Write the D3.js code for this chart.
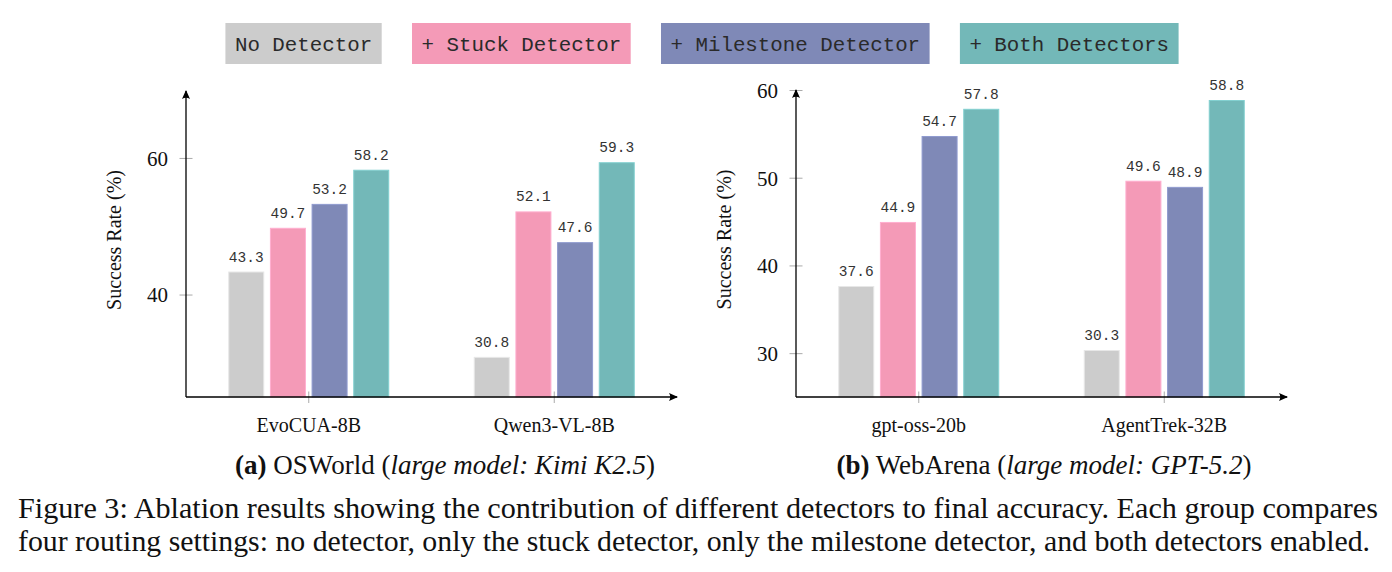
<!DOCTYPE html>
<html>
<head>
<meta charset="utf-8">
<script src="https://cdn.jsdelivr.net/npm/d3@7"></script>
<style>
  html, body { margin: 0; padding: 0; background: #fff; }
  svg { display: block; }
</style>
</head>
<body>
<svg id="fig" width="1392" height="572"></svg>
<script>
// series names (legend order)
const settings = ['No Detector', '+ Stuck Detector', '+ Milestone Detector', '+ Both Detectors'];
const colors = ['#cccccc', '#f49ab7', '#7f89b7', '#73b8b8'];

// (a) OSWorld
const osworldModels = ['EvoCUA-8B', 'Qwen3-VL-8B'];
const evocua = [43.3, 49.7, 53.2, 58.2];
const qwen = [30.8, 52.1, 47.6, 59.3];
const osworldTicks = [40, 60];

// (b) WebArena
const webarenaModels = ['gpt-oss-20b', 'AgentTrek-32B'];
const gptOss = [37.6, 44.9, 54.7, 57.8];
const agentTrek = [30.3, 49.6, 48.9, 58.8];
const webarenaTicks = [30, 40, 50, 60];

const svg = d3.select('#fig');
const serif = '"Liberation Serif", "Times New Roman", serif';
const mono = '"Liberation Mono", "Courier New", monospace';

// arrow head
const defs = svg.append('defs');
defs.append('marker')
  .attr('id', 'arrow')
  .attr('viewBox', '-10 -5 12 10')
  .attr('refX', 0).attr('refY', 0)
  .attr('markerWidth', 12).attr('markerHeight', 10)
  .attr('markerUnits', 'userSpaceOnUse')
  .attr('orient', 'auto')
  .append('path')
  .attr('d', 'M1,0 L-8,-4 Q-5.5,0 -8,4 Z')
  .attr('fill', '#000');

// ---- legend ----
const legend = svg.append('g');
const padX = 9.5, gap = 30.3, boxY = 23, boxH = 41;
let lx = 0;
settings.forEach((s, i) => {
  const g = legend.append('g');
  const t = g.append('text')
    .attr('font-family', mono)
    .attr('font-size', 20.8)
    .attr('fill', '#2a2a2a')
    .attr('y', boxY + boxH / 2 + 7)
    .text(s);
  const w = t.node().getComputedTextLength() + 2 * padX;
  g.insert('rect', 'text')
    .attr('x', lx).attr('y', boxY)
    .attr('width', w).attr('height', boxH)
    .attr('fill', colors[i]);
  t.attr('x', lx + padX);
  lx += w + gap;
});
const legendW = lx - gap;
legend.attr('transform', `translate(${702 - legendW / 2},0)`);

// ---- one panel ----
function panel(opts) {
  const { x0, x1, yTop, yBottom, domain, ticks, models, values, caption } = opts;

  const x = d3.scaleBand().domain(models).range([x0, x1]).padding(0);
  const inner = d3.scaleBand().domain(settings).range([-80, 80]).paddingInner(0.16).paddingOuter(0);
  const y = d3.scaleLinear().domain(domain).range([yBottom, yTop]);

  const g = svg.append('g');

  // bars
  models.forEach((m, mi) => {
    const cx = x(m) + x.bandwidth() / 2;
    const grp = g.append('g').attr('transform', `translate(${cx},0)`);
    grp.selectAll('rect')
      .data(values[mi])
      .join('rect')
      .attr('x', (d, i) => inner(settings[i]))
      .attr('width', inner.bandwidth())
      .attr('y', d => y(d))
      .attr('height', d => yBottom - y(d))
      .attr('fill', (d, i) => colors[i])
      .attr('stroke', (d, i) => d3.color(colors[i]).brighter(0.35))
      .attr('stroke-width', 1);
    grp.selectAll('text')
      .data(values[mi])
      .join('text')
      .attr('x', (d, i) => inner(settings[i]) + inner.bandwidth() / 2)
      .attr('y', d => y(d) - 10.5)
      .attr('text-anchor', 'middle')
      .attr('font-family', mono)
      .attr('font-size', 14.5)
      .attr('fill', '#333')
      .text(d => d.toFixed(1));
  });

  // y axis
  const yAxis = g.append('g')
    .attr('transform', `translate(${x0},0)`)
    .call(d3.axisLeft(y).tickValues(ticks).tickSizeOuter(0).tickSizeInner(6).tickPadding(12));
  yAxis.select('.domain').remove();
  yAxis.selectAll('.tick line').attr('x1', -6.5).attr('x2', 6.5).attr('stroke', '#aaa');
  yAxis.selectAll('.tick text')
    .attr('font-family', serif).attr('font-size', 21).attr('fill', '#111')
    .attr('dy', '0.35em');

  // x axis
  const xAxis = g.append('g')
    .attr('transform', `translate(0,${yBottom})`)
    .call(d3.axisBottom(x).tickSizeOuter(0).tickSizeInner(6).tickPadding(15));
  xAxis.select('.domain').remove();
  xAxis.selectAll('.tick line').attr('y1', -5.5).attr('y2', 6).attr('stroke', '#aaa');
  xAxis.selectAll('.tick text')
    .attr('font-family', serif).attr('font-size', 20).attr('fill', '#111');

  // axis lines with arrows
  g.append('line')
    .attr('x1', x0).attr('y1', yBottom).attr('x2', x1).attr('y2', yBottom)
    .attr('stroke', '#000').attr('stroke-width', 1.3).attr('marker-end', 'url(#arrow)');
  g.append('line')
    .attr('x1', x0).attr('y1', yBottom).attr('x2', x0).attr('y2', yTop)
    .attr('stroke', '#000').attr('stroke-width', 1.3).attr('marker-end', 'url(#arrow)');

  // y label
  g.append('text')
    .attr('transform', `translate(${opts.labelX},${(yTop + yBottom) / 2 - 4}) rotate(-90)`)
    .attr('text-anchor', 'middle')
    .attr('font-family', serif).attr('font-size', 20).attr('fill', '#111')
    .text('Success Rate (%)');

  // sub caption
  const c = g.append('text')
    .attr('x', opts.capX).attr('y', 474)
    .attr('text-anchor', 'middle')
    .attr('font-family', serif).attr('font-size', 27).attr('fill', '#111');
  c.append('tspan').attr('font-weight', 'bold').text(caption[0]);
  c.append('tspan').text(caption[1]);
  c.append('tspan').attr('font-style', 'italic').text(caption[2]);
  c.append('tspan').text(')');
}

panel({
  x0: 186, x1: 677, yTop: 91, yBottom: 397, domain: [25, 69.8],
  ticks: osworldTicks, models: osworldModels, values: [evocua, qwen],
  labelX: 121, capX: 445,
  caption: ['(a)', ' OSWorld (', 'large model: Kimi K2.5']
});

panel({
  x0: 796, x1: 1287, yTop: 90, yBottom: 397, domain: [25, 60],
  ticks: webarenaTicks, models: webarenaModels, values: [gptOss, agentTrek],
  labelX: 731, capX: 1044,
  caption: ['(b)', ' WebArena (', 'large model: GPT-5.2']
});

// figure caption
const capLines = [
  'Figure 3: Ablation results showing the contribution of different detectors to final accuracy. Each group compares',
  'four routing settings: no detector, only the stuck detector, only the milestone detector, and both detectors enabled.'
];
const capWidths = [1360, 1352];
svg.selectAll('text.figcap')
  .data(capLines)
  .join('text')
  .attr('class', 'figcap')
  .attr('x', 18)
  .attr('y', (d, i) => 518 + i * 32.5)
  .attr('font-family', serif)
  .attr('font-size', 30)
  .attr('fill', '#111')
  .attr('textLength', (d, i) => capWidths[i])
  .attr('lengthAdjust', 'spacingAndGlyphs')
  .text(d => d);
</script>
</body>
</html>
